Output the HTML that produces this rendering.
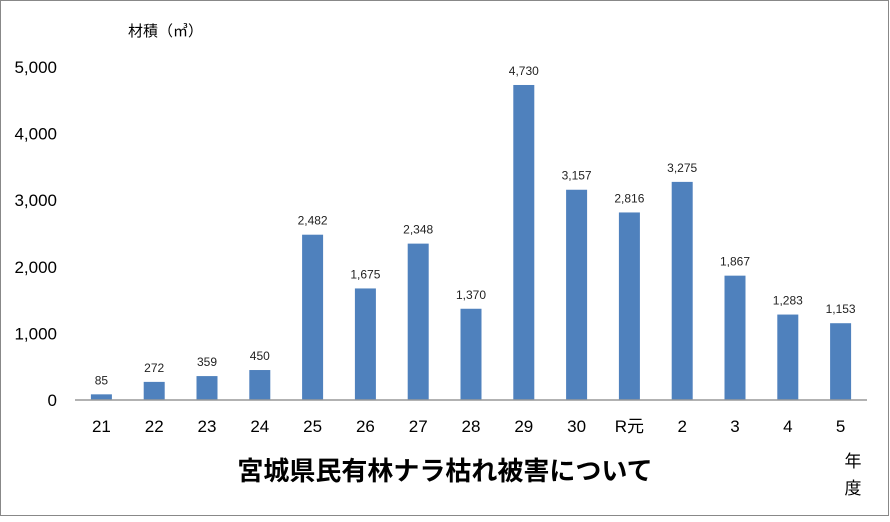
<!DOCTYPE html>
<html><head><meta charset="utf-8"><style>
body{margin:0;background:#fff;}
svg text{font-family:"Liberation Sans","Noto Sans CJK JP",sans-serif;}
</style></head><body>
<svg width="890" height="517" xmlns="http://www.w3.org/2000/svg">
<rect x="0.5" y="0.5" width="888" height="515" fill="#fff" stroke="#888"/>
<text x="128" y="36" font-size="15">材積（㎥）</text>
<g id="yticks"></g>
<g id="bars"></g>
<line x1="75" y1="400" x2="867" y2="400" stroke="#999" stroke-width="1.5"/>
<g id="xlabels"></g>
<text x="445" y="480" font-size="26" font-weight="bold" text-anchor="middle">宮城県民有林ナラ枯れ被害について</text>
<text x="853" y="467" font-size="17" text-anchor="middle">年</text>
<text x="853" y="494" font-size="17" text-anchor="middle">度</text>
</svg>
<script>
const categories=["21","22","23","24","25","26","27","28","29","30","R元","2","3","4","5"];
const values=[85,272,359,450,2482,1675,2348,1370,4730,3157,2816,3275,1867,1283,1153];
const valueLabels=["85","272","359","450","2,482","1,675","2,348","1,370","4,730","3,157","2,816","3,275","1,867","1,283","1,153"];
const yTicks=[0,1000,2000,3000,4000,5000];
const yTickLabels=["0","1,000","2,000","3,000","4,000","5,000"];
const NS="http://www.w3.org/2000/svg";
const x0=75,x1=867,yBase=400,yTop=67,yMax=5000;
const bw=(x1-x0)/categories.length;
const yS=v=>yBase-(v/yMax)*(yBase-yTop);
const xC=i=>x0+bw*(i+0.5);
function mk(t,a,p){const e=document.createElementNS(NS,t);for(const k in a)e.setAttribute(k,a[k]);p.appendChild(e);return e;}
const yg=document.getElementById('yticks');
yTicks.forEach((v,i)=>{const t=mk('text',{x:57,y:yS(v)+6,'font-size':17,'text-anchor':'end'},yg);t.textContent=yTickLabels[i];

});
const bg=document.getElementById('bars'),xg=document.getElementById('xlabels');
values.forEach((v,i)=>{
const r=mk('rect',{x:xC(i)-10.5,y:yS(v),width:21,height:yBase-yS(v),fill:'#4f81bd'},bg);


const t=mk('text',{x:xC(i),y:yS(v)-10,'font-size':12,'text-anchor':'middle',fill:'#222'},bg);t.textContent=valueLabels[i];


const c=mk('text',{x:xC(i),y:432,'font-size':17,'text-anchor':'middle'},xg);c.textContent=categories[i];


});
</script>
</body></html>
